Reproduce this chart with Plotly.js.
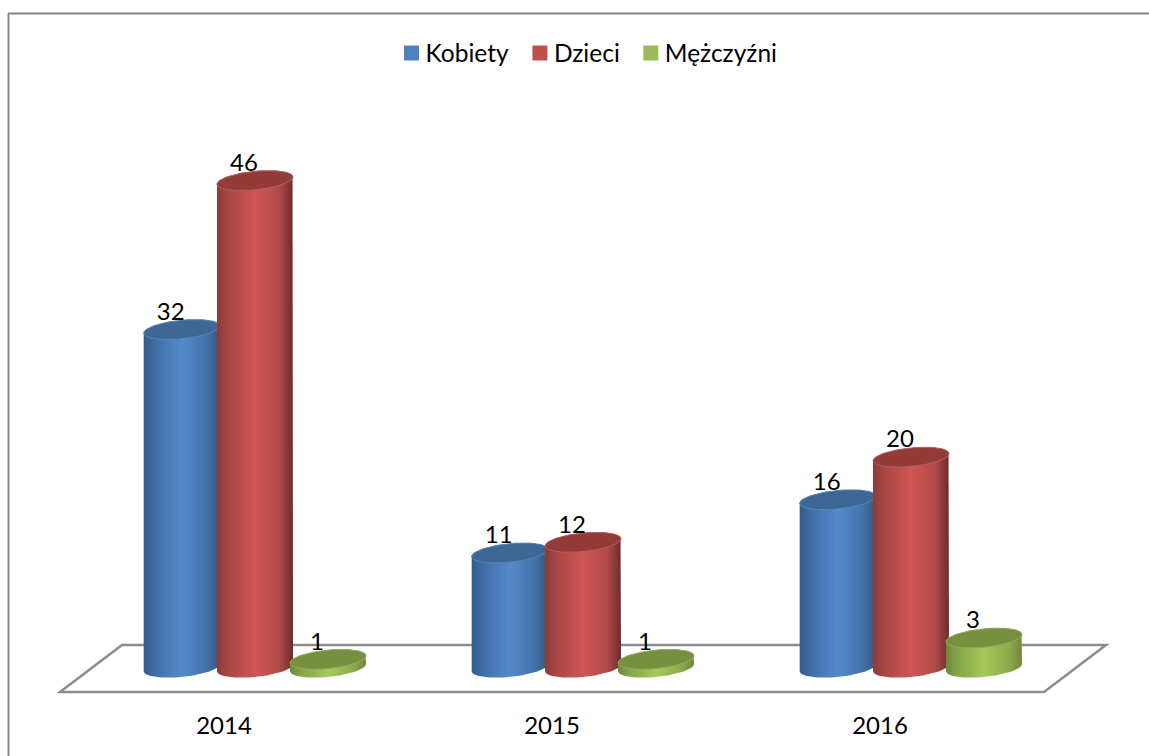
<!DOCTYPE html>
<html>
<head>
<meta charset="utf-8">
<script src="https://cdn.plot.ly/plotly-3.0.1.min.js"></script>
<style>html,body{margin:0;padding:0;background:#fff}#chart{width:1149px;height:756px}</style>
</head>
<body>
<div id="chart"></div>
<script>
// Data
const years = ['2014', '2015', '2016'];
const seriesNames = ['Kobiety', 'Dzieci', 'Mężczyźni'];
const kobiety = [32, 11, 16];
const dzieci = [46, 12, 20];
const mezczyzni = [1, 1, 3];

// Styles
const flatColors = ['#4f81bd', '#c0504d', '#9bbb59'];
const bodyScales = [
  [[0,'#33588a'],[0.14,'#3f6ea6'],[0.5,'#548acb'],[0.82,'#4573ab'],[1,'#33577f']],
  [[0,'#8a3b39'],[0.14,'#a84644'],[0.5,'#cf5654'],[0.82,'#b04a48'],[1,'#6b2c2b']],
  [[0,'#6c883a'],[0.14,'#83a347'],[0.5,'#a6c95b'],[0.82,'#8dac4c'],[1,'#6d8839']]
];
const topColors = ['#3d6895', '#943b3a', '#76903f'];
const rimColors = ['#5a83b5', '#b06060', '#93ab5e'];

const W = 1149, H = 756;
const plotL = 52, plotR = 1112, plotT = 100, plotB = 700;
const floorL = 60, floorFrontY = 692, floorBackY = 645;
const catPx = 328, unitPx = 10.64, zeroPx = 670;
const xMin = (plotL - floorL) / catPx, xMax = (plotR - floorL) / catPx;
const yMin = (zeroPx - plotB) / unitPx, yMax = (zeroPx - plotT) / unitPx;
const groupCentre = 0.5945;
const seriesOffset = [-0.2235, 0, 0.2225];
const rx = 38 / catPx, ry = 9.3 / unitPx, tilt = 3.6 / unitPx;
const baseLift = 0.22;
const labelShift = -11 / catPx;
const allValues = [kobiety, dzieci, mezczyzni];

function arc(cx, cy, t0, t1, n) {
  const xs = [], ys = [];
  for (let i = 0; i <= n; i++) {
    const t = t0 + (t1 - t0) * i / n;
    xs.push(cx + rx * Math.cos(t));
    ys.push(cy + ry * Math.sin(t) + tilt * Math.cos(t));
  }
  return [xs, ys];
}

const traces = [];
// Flat bars: real values and legend entries
allValues.forEach((vals, s) => {
  traces.push({
    type: 'bar', name: seriesNames[s],
    x: years.map((_, i) => i + groupCentre + seriesOffset[s]),
    y: vals, width: 0.15,
    marker: {color: flatColors[s], line: {width: 0}},
    hoverinfo: 'y', showlegend: true
  });
});
// Cylinders
allValues.forEach((vals, s) => {
  vals.forEach((v, i) => {
    const cx = i + groupCentre + seriesOffset[s];
    const low = arc(cx, baseLift, Math.PI, 2 * Math.PI, 40);
    const topFull = arc(cx, v, 0, Math.PI, 40);
    traces.push({
      type: 'scatter', mode: 'lines', fill: 'toself', showlegend: false, hoverinfo: 'skip',
      x: low[0].concat(topFull[0]), y: low[1].concat(topFull[1]),
      line: {width: 0},
      fillgradient: {type: 'horizontal', colorscale: bodyScales[s]}
    });
    const cap = arc(cx, v, 0, 2 * Math.PI, 80);
    traces.push({
      type: 'scatter', mode: 'lines', fill: 'toself', showlegend: false, hoverinfo: 'skip',
      x: cap[0], y: cap[1],
      line: {width: 1, color: rimColors[s]},
      fillcolor: topColors[s]
    });
  });
});
// Data labels
allValues.forEach((vals, s) => {
  traces.push({
    type: 'scatter', mode: 'text', showlegend: false, hoverinfo: 'skip',
    x: years.map((_, i) => i + groupCentre + seriesOffset[s] + labelShift),
    y: vals.map(v => v + 0.35),
    text: vals.map(String), textposition: 'top center',
    textfont: {family: 'Lato, sans-serif', size: 24, color: '#000'}
  });
});

const fy0 = (zeroPx - floorFrontY) / unitPx, fy1 = (zeroPx - floorBackY) / unitPx;
const fxR = (1106 - floorL) / catPx;
const floorPath = `M0,${fy0}L3,${fy0}L${fxR},${fy1}L${fxR - 3},${fy1}Z`;

const px = v => (v - plotL) / (plotR - plotL);
const py = v => (plotB - v) / (plotB - plotT);

const layout = {
  width: W, height: H,
  margin: {l: plotL, r: W - plotR, t: plotT, b: H - plotB, pad: 0},
  paper_bgcolor: '#fff', plot_bgcolor: 'rgba(0,0,0,0)',
  font: {family: 'Lato, sans-serif', size: 24, color: '#000'},
  barmode: 'overlay',
  showlegend: true,
  legend: {
    orientation: 'h', x: px(584), xanchor: 'center',
    y: py(53), yanchor: 'middle',
    font: {family: 'Lato, sans-serif', size: 24.5, color: '#000'},
    itemclick: false, itemdoubleclick: false, traceorder: 'normal'
  },
  xaxis: {
    range: [xMin, xMax], showgrid: false, zeroline: false, showline: false,
    tickmode: 'array', tickvals: years.map((_, i) => i + 0.5), ticktext: years,
    ticks: '', ticklabelstandoff: 9, tickfont: {family: 'Lato, sans-serif', size: 24, color: '#000'}, fixedrange: true
  },
  yaxis: {range: [yMin, yMax], showgrid: false, zeroline: false, showline: false, showticklabels: false, ticks: '', fixedrange: true},
  shapes: [
    {type: 'path', path: floorPath, xref: 'x', yref: 'y', layer: 'below', line: {color: '#8c8c8c', width: 2.5}, fillcolor: 'rgba(0,0,0,0)'},
    {type: 'line', xref: 'paper', yref: 'paper', layer: 'below',
      x0: px(8), x1: px(W), y0: py(13.5), y1: py(13.5),
      line: {color: '#868686', width: 2}},
    {type: 'line', xref: 'paper', yref: 'paper', layer: 'below',
      x0: px(8.5), x1: px(8.5), y0: py(13.5), y1: py(H),
      line: {color: '#868686', width: 2}}
  ]
};

Plotly.newPlot('chart', traces, layout, {displayModeBar: false}).then(() => {
  // Larger legend swatches, sitting closer to their labels
  document.querySelectorAll('.legend .legendpoints path').forEach(p => {
    p.setAttribute('transform', 'translate(26,0) scale(1.25)');
  });
});
</script>
</body>
</html>
